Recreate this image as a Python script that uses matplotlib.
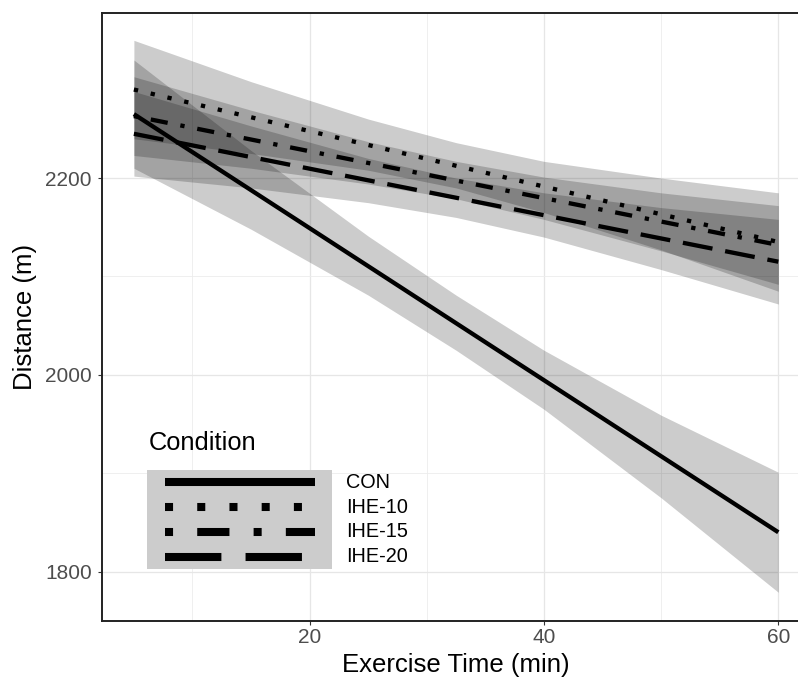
import numpy as np
import matplotlib.pyplot as plt
from matplotlib.patches import Rectangle
from matplotlib.lines import Line2D

plt.rcParams['font.family'] = ['Liberation Sans', 'DejaVu Sans']

# regression fits (start / end of the exercise window)
conditions = ["CON", "IHE-10", "IHE-15", "IHE-20"]
x_fit = [5, 60]
con_fit = [2265, 1840]
ihe10_fit = [2290, 2135]
ihe15_fit = [2263, 2132]
ihe20_fit = [2245, 2115]

# confidence bands
x_band = [5, 15, 25, 32.5, 40, 50, 60]
con_lo = [2210, 2148, 2081, 2025, 1965, 1875, 1779]
con_hi = [2320, 2228, 2141, 2081, 2025, 1959, 1901]
ihe10_lo = [2240, 2225, 2208, 2190, 2165, 2127, 2085]
ihe10_hi = [2340, 2298, 2260, 2236, 2217, 2200, 2185]
ihe15_lo = [2223, 2210, 2194, 2179, 2158, 2126, 2092]
ihe15_hi = [2303, 2269, 2237, 2217, 2201, 2185, 2172]
ihe20_lo = [2202, 2190, 2175, 2160, 2140, 2107, 2072]
ihe20_hi = [2288, 2253, 2220, 2200, 2185, 2170, 2158]

x_ticks = [20, 40, 60]
y_ticks = [1800, 2000, 2200]

fits = [con_fit, ihe10_fit, ihe15_fit, ihe20_fit]
bands = [(con_lo, con_hi), (ihe10_lo, ihe10_hi), (ihe15_lo, ihe15_hi), (ihe20_lo, ihe20_hi)]
styles = ['-', (0, (1, 3)), (0, (1, 3, 4, 3)), (0, (7, 3))]

fig = plt.figure(figsize=(7.98, 6.91), dpi=100)
ax = fig.add_axes([0.1274, 0.1013, 0.8883, 0.8799])

for lo, hi in bands:
    ax.fill_between(x_band, lo, hi, color='black', alpha=0.2, lw=0, zorder=2)
for fit, ls in zip(fits, styles):
    ax.plot(x_fit, fit, color='black', lw=3.1, linestyle=ls,
            dash_capstyle='butt', solid_capstyle='butt', zorder=3)

ax.set_xlim(2.25, 62.75)
ax.set_ylim(1749.8, 2367.8)
ax.set_xticks(x_ticks)
ax.set_yticks(y_ticks)
ax.set_xticks([10, 30, 50], minor=True)
ax.set_yticks([1900, 2100], minor=True)
ax.grid(True, which='major', color='#e6e6e6', lw=0.9, zorder=0)
ax.grid(True, which='minor', color='#ececec', lw=0.6, zorder=0)
ax.set_axisbelow(True)
ax.tick_params(which='major', length=3, width=0.8, color='#333333',
               labelcolor='#4d4d4d', labelsize=15)
ax.tick_params(axis='x', pad=2)
ax.tick_params(axis='y', pad=4)
ax.tick_params(which='minor', length=0)
for side in ['left', 'bottom', 'top']:
    ax.spines[side].set_color('#222222')
    ax.spines[side].set_linewidth(1.4)
ax.spines['right'].set_visible(False)

ax.set_xlabel('Exercise Time (min)', fontsize=18.5, labelpad=4)
ax.set_ylabel('Distance (m)', fontsize=18.5, labelpad=6)

# legend drawn by hand so the keys share one grey block
tr = ax.transAxes
ax.text(0.0668, 0.2928, 'Condition', transform=tr, fontsize=18.3,
        ha='left', va='center', zorder=5)
ax.add_patch(Rectangle((0.0639, 0.0855), 0.2610, 0.1629, transform=tr,
                       facecolor='#cccccc', edgecolor='none', zorder=4))
row_h = 0.1629 / 4
for i, (name, ls) in enumerate(zip(conditions, styles)):
    yc = 0.2484 - row_h * (i + 0.5)
    ax.add_line(Line2D([0.0893, 0.3009], [yc, yc], transform=tr, color='black',
                       lw=5.8, linestyle=ls, dash_capstyle='butt',
                       solid_capstyle='butt', zorder=5))
    ax.text(0.3447, yc, name, transform=tr, fontsize=14.3, ha='left',
            va='center', zorder=5)

fig.savefig('out.png', dpi=100)
